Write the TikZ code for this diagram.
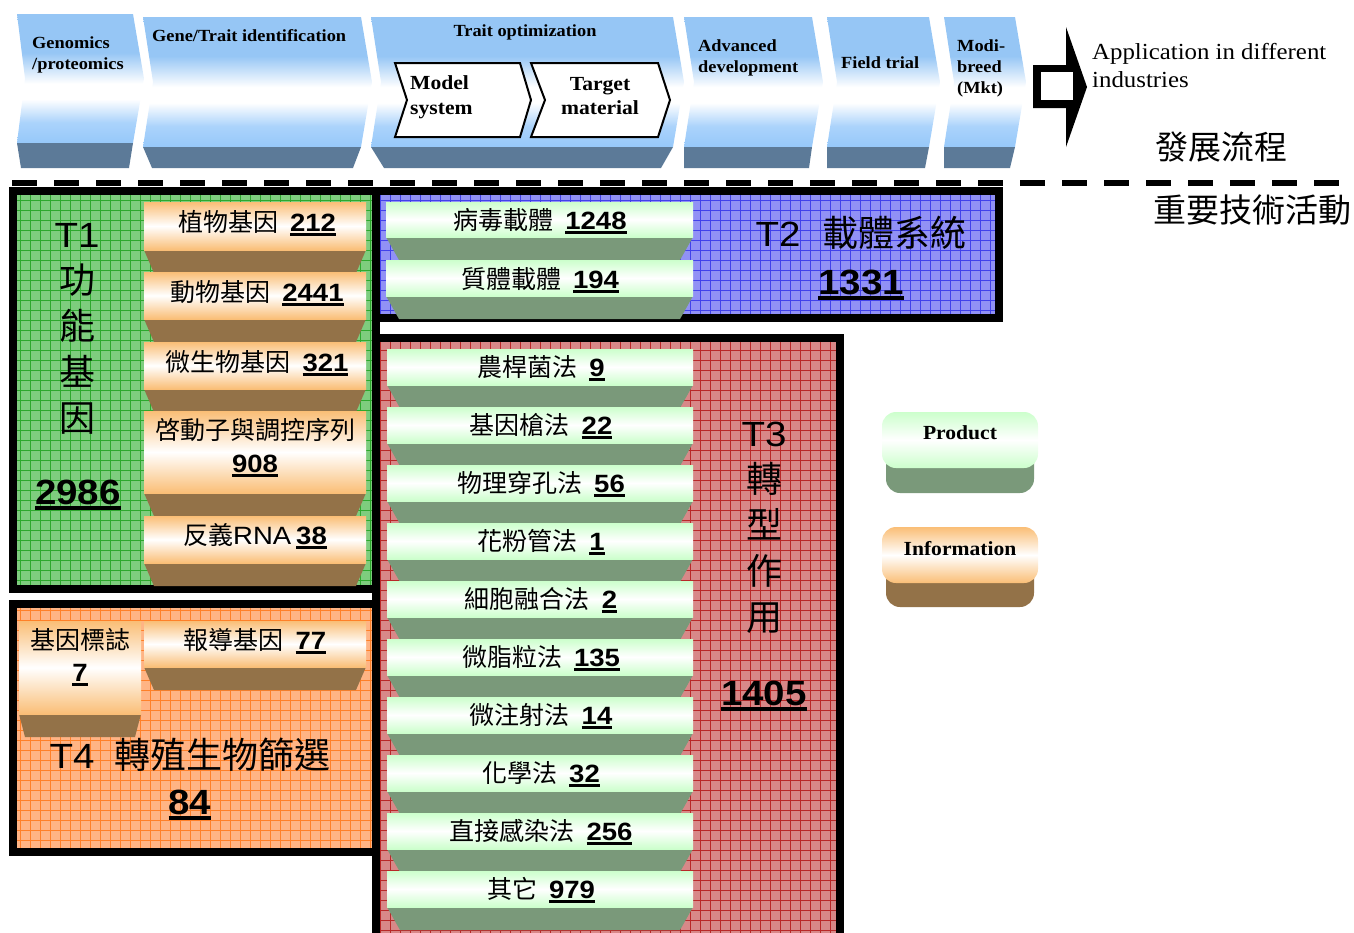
\documentclass[tikz,border=0pt]{standalone}
\usepackage{fontspec}
\setmainfont{Liberation Sans}[FakeStretch=1.1]
\newfontfamily\cjk{Noto Sans CJK TC}
\newfontfamily\tnr{Liberation Serif}[FakeStretch=1.08]
\usepackage{tikz}
\usetikzlibrary{positioning}

\definecolor{bannerblue}{RGB}{150,200,250}
\definecolor{bannertop}{RGB}{150,198,245}
\definecolor{bannerbase}{RGB}{92,122,152}
\definecolor{infotop}{RGB}{250,190,118}
\definecolor{infobase}{RGB}{147,114,72}
\definecolor{prodtop}{RGB}{204,255,204}
\definecolor{prodbase}{RGB}{122,153,122}
\definecolor{tonefill}{RGB}{126,205,126}
\definecolor{tonegrid}{RGB}{45,168,45}
\definecolor{ttwofill}{RGB}{145,145,245}
\definecolor{ttwogrid}{RGB}{65,65,235}
\definecolor{tthreefill}{RGB}{216,136,136}
\definecolor{tthreegrid}{RGB}{185,40,40}
\definecolor{tfourfill}{RGB}{255,180,132}
\definecolor{tfourgrid}{RGB}{255,128,40}

\pgfdeclareverticalshading{bannershade}{100bp}{color(0bp)=(bannerblue); color(25bp)=(bannerblue); color(33bp)=(bannerblue!80); color(42bp)=(white); color(48bp)=(white); color(60bp)=(bannertop); color(75bp)=(bannertop); color(100bp)=(bannertop)}

% underlined bold count
\newcommand\cnt[1]{\setbox0\hbox{\bfseries #1}\rlap{\rule[-0.17em]{\wd0}{0.11em}}\box0}
% tile = face + slab (x1, x2, face top, face bottom, slab inset)
\newcommand\infotile[5]{%
  \fill[infobase] (#1,#4) -- (#2,#4) -- ({#2-#5},{#4+23}) -- ({#1+#5},{#4+23}) -- cycle;
  \shade[infoface] (#1,#3) rectangle (#2,#4);}
\newcommand\prodtile[5]{%
  \fill[prodbase] (#1,#4) -- (#2,#4) -- ({#2-#5},{#4+23}) -- ({#1+#5},{#4+23}) -- cycle;
  \shade[prodface] (#1,#3) rectangle (#2,#4);}

\tikzset{
  tbox/.style={line width=8pt},
  gridline/.style={line width=0.9pt, step=10pt},
  infoface/.style={top color=infotop, bottom color=infotop, middle color=white},
  prodface/.style={top color=prodtop, bottom color=prodtop, middle color=white},
  tiletxt/.style={font=\fontsize{25}{33}\selectfont, align=center, inner sep=0pt},
  grouptxt/.style={font=\fontsize{35}{46}\selectfont, align=center, inner sep=0pt},
  headtxt/.style={font=\tnr\bfseries\fontsize{17}{21}\selectfont, align=left, inner sep=0pt},
  chevron/.style={fill=white, draw=black, line width=2pt},
}

\begin{document}
\begin{tikzpicture}[x=1pt, y=-1pt]
\useasboundingbox (0,0) rectangle (1354,932);

% process banner
\foreach \xl/\xr/\yt/\yb/\dl/\dr/\nl in {17/133/14/143/4/4/8, 143/361/17/147/9/8/10,
    371/673/17/147/13/12/10, 684/812/17/147/0/3/10, 827/929/17/147/0/4/10, 944/1015/17/147/0/5/10} {
  \pgfmathsetmacro\ym{(\yt+\yb)/2}
  \shade[shading=bannershade] (\xl,\yt) -- (\xr,\yt) -- ({\xr+11},\ym) -- (\xr,\yb)
    -- (\xl,\yb) -- ({\xl+\nl},\ym) -- cycle;
  \fill[bannerbase] (\xl,\yb) -- (\xr,\yb) -- ({\xr-\dr},168) -- ({\xl+\dl},168) -- cycle;
}
\draw[chevron] (395,63) -- (520,63) -- (531,100) -- (520,137) -- (395,137) -- (407,100) -- cycle;
\draw[chevron] (531,63) -- (658,63) -- (670,100) -- (658,137) -- (531,137) -- (545,100) -- cycle;

\node[headtxt, anchor=west] (genomics) at (32,55) {Genomics\\/proteomics};
\node[headtxt, anchor=west] (geneid) at (152,36) {Gene/Trait identification};
\node[headtxt] (traitopt) at (525,32) {Trait optimization};
\node[headtxt, anchor=west, font=\tnr\bfseries\fontsize{20}{25}\selectfont] (modelsys) at (410,97) {Model\\system};
\node[headtxt, align=center, font=\tnr\bfseries\fontsize{20}{24}\selectfont] (target) at (600,96) {Target\\material};
\node[headtxt, anchor=west] (advdev) at (698,58) {Advanced\\development};
\node[headtxt, anchor=west] (field) at (841,63) {Field trial};
\node[headtxt, anchor=west] (modi) at (957,68) {Modi-\\breed\\(Mkt)};

% block arrow
\fill (1033,65) -- (1066,65) -- (1066,27) -- (1087,87) -- (1066,147) -- (1066,108) -- (1033,108) -- cycle;
\fill[white] (1041,72) rectangle (1073,100);
\node[font=\tnr\fontsize{23}{28}\selectfont, align=left, anchor=west, inner sep=0pt] (app) at (1092,66)
  {Application in different\\industries};
\node[font=\cjk\fontsize{33}{40}\selectfont, inner sep=0pt] (flow) at (1221,147) {發展流程};

% separator
\draw[line width=6pt, dash pattern=on 25pt off 17pt] (12,183) -- (1345,183);
\node[font=\cjk\fontsize{33}{40}\selectfont, inner sep=0pt] (tech) at (1252,210) {重要技術活動};

% T1
\begin{scope}
  \clip (13,191) rectangle (376,589);
  \fill[tonefill] (13,191) rectangle (376,589);
  \draw[tonegrid, gridline] (13,589) grid (376,191);
\end{scope}
\draw[tbox] (13,191) rectangle (376,589);
% T2
\begin{scope}
  \clip (376,191) rectangle (999,318);
  \fill[ttwofill] (376,191) rectangle (999,318);
  \draw[ttwogrid, gridline] (376,318) grid (999,191);
\end{scope}
\draw[tbox] (376,191) rectangle (999,318);
% T3
\begin{scope}
  \clip (376,338) rectangle (840,940);
  \fill[tthreefill] (376,338) rectangle (840,940);
  \draw[tthreegrid, gridline] (376,940) grid (840,338);
\end{scope}
\draw[tbox] (376,338) rectangle (840,940);
% T4
\begin{scope}
  \clip (13,604) rectangle (376,852);
  \fill[tfourfill] (13,604) rectangle (376,852);
  \draw[tfourgrid, gridline] (13,852) grid (376,604);
\end{scope}
\draw[tbox] (13,604) rectangle (376,852);

% T1 tiles
\infotile{144}{366}{202}{250}{10}
\infotile{144}{366}{272}{319}{10}
\infotile{144}{366}{342}{389}{10}
\infotile{144}{366}{411}{493}{10}
\infotile{144}{366}{516}{563}{10}
\node[tiletxt] (plant) at (257,223) {{\cjk 植物基因}\hspace{12pt}\cnt{212}};
\node[tiletxt] (animal) at (257,293) {{\cjk 動物基因}\hspace{12pt}\cnt{2441}};
\node[tiletxt] (microbe) at (257,363) {{\cjk 微生物基因}\hspace{12pt}\cnt{321}};
\node[tiletxt] (promoter) at (255,448) {{\cjk 啓動子與調控序列}\\\cnt{908}};
\node[tiletxt] (antisense) at (255,536) {{\cjk 反義}RNA\hspace{5pt}\cnt{38}};
\node[grouptxt] (tonelab) at (77,329) {T1\\{\cjk\fontsize{36}{46}\selectfont 功}\\{\cjk\fontsize{36}{46}\selectfont 能}\\{\cjk\fontsize{36}{46}\selectfont 基}\\{\cjk\fontsize{36}{46}\selectfont 因}};
\node[grouptxt] (tonesum) at (78,495) {\cnt{2986}};

% T2 tiles
\prodtile{386}{693}{202}{237}{13}
\prodtile{386}{693}{260}{296}{13}
\node[tiletxt] (virus) at (540,221) {{\cjk 病毒載體}\hspace{12pt}\cnt{1248}};
\node[tiletxt] (plasmid) at (540,280) {{\cjk 質體載體}\hspace{12pt}\cnt{194}};
\node[grouptxt] (ttwolab) at (861,233) {T2\hspace{22pt}{\cjk\fontsize{36}{46}\selectfont 載體系統}};
\node[grouptxt] (ttwosum) at (861,285) {\cnt{1331}};

% T3 tiles
\foreach \idx/\nm/\val in {0/農桿菌法/9, 1/基因槍法/22, 2/物理穿孔法/56, 3/花粉管法/1, 4/細胞融合法/2,
    5/微脂粒法/135, 6/微注射法/14, 7/化學法/32, 8/直接感染法/256, 9/其它/979} {
  \pgfmathsetmacro\yt{349+58*\idx}
  \prodtile{387}{693}{\yt}{\yt+36}{13}
  \node[tiletxt] (method\idx) at (541,{\yt+19}) {{\cjk \nm}\hspace{12pt}\cnt{\val}};
}
\node[grouptxt] (tthreelab) at (764,528) {T3\\{\cjk\fontsize{36}{46}\selectfont 轉}\\{\cjk\fontsize{36}{46}\selectfont 型}\\{\cjk\fontsize{36}{46}\selectfont 作}\\{\cjk\fontsize{36}{46}\selectfont 用}};
\node[grouptxt] (tthreesum) at (764,696) {\cnt{1405}};

% T4 tiles
\infotile{19}{141}{621}{714}{6}
\infotile{144}{366}{621}{667}{10}
\node[tiletxt, font=\fontsize{25}{32}\selectfont] (marker) at (80,657) {{\cjk 基因標誌}\\\cnt{7}};
\node[tiletxt] (reporter) at (255,641) {{\cjk 報導基因}\hspace{12pt}\cnt{77}};
\node[grouptxt] (tfourlab) at (190,755) {T4\hspace{20pt}{\cjk\fontsize{36}{46}\selectfont 轉殖生物篩選}};
\node[grouptxt] (tfoursum) at (190,805) {\cnt{84}};

% legend
\fill[prodbase, rounded corners=14pt] (886,440) rectangle (1034,493);
\shade[prodface, rounded corners=14pt] (882,412) rectangle (1038,468);
\node[font=\tnr\bfseries\fontsize{20}{24}\selectfont, inner sep=0pt] (product) at (960,433) {Product};
\fill[infobase, rounded corners=14pt] (886,555) rectangle (1034,607);
\shade[infoface, rounded corners=14pt] (882,527) rectangle (1038,583);
\node[font=\tnr\bfseries\fontsize{20}{24}\selectfont, inner sep=0pt] (information) at (960,549) {Information};
\end{tikzpicture}
\end{document}
